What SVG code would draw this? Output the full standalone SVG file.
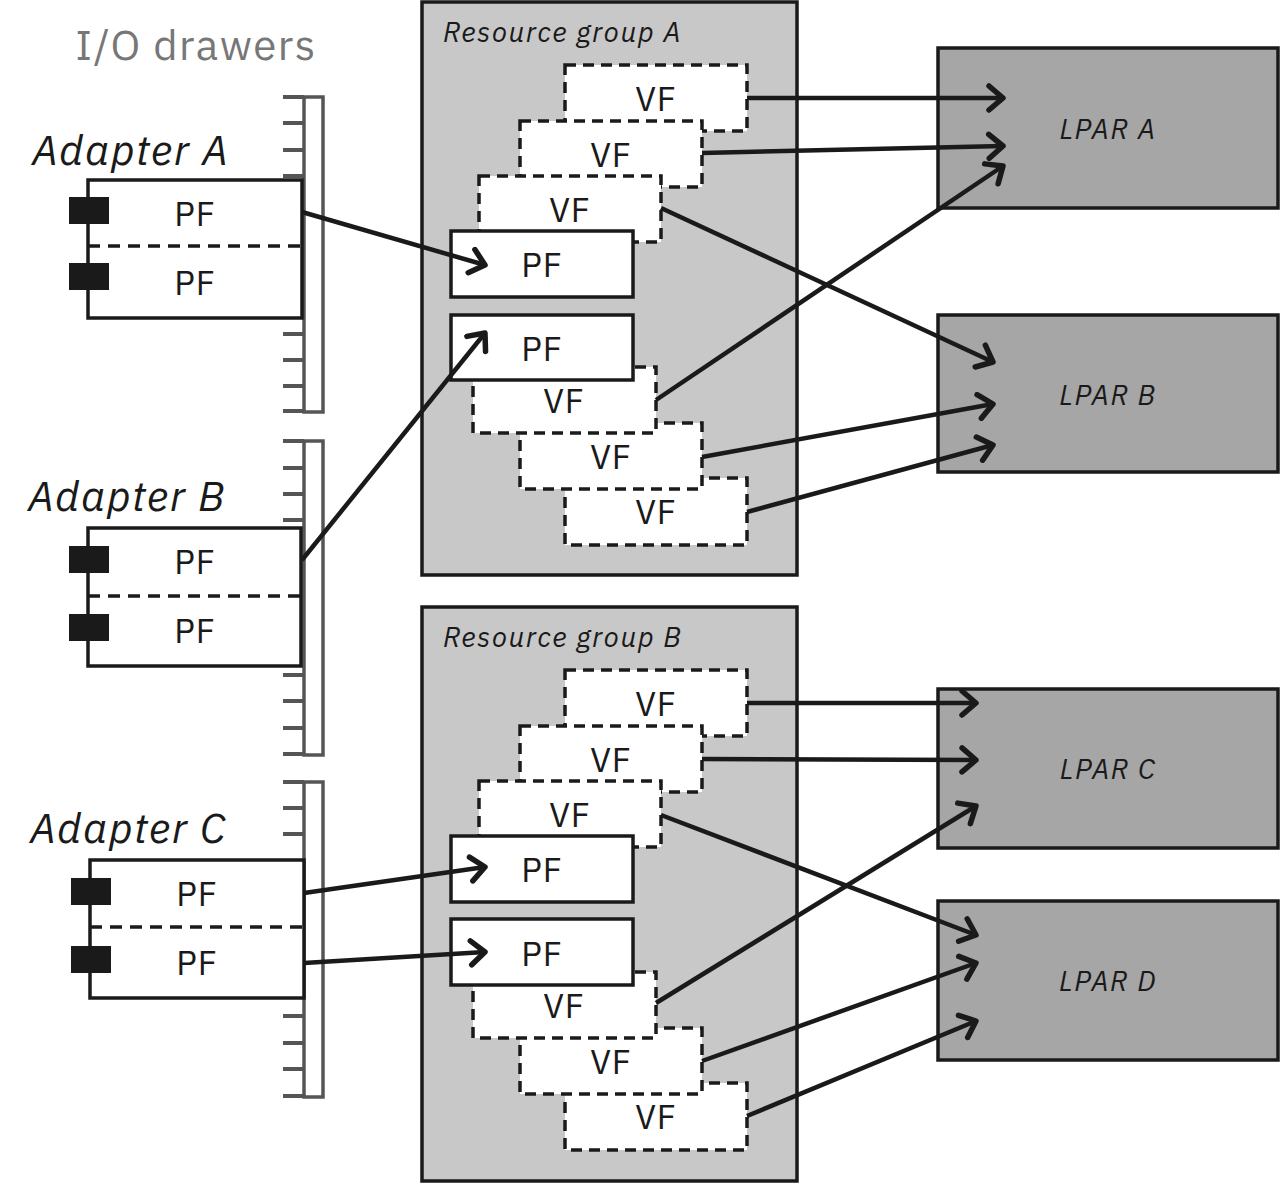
<svg xmlns="http://www.w3.org/2000/svg" width="1280" height="1183" viewBox="0 0 1280 1183">
<style>
text{font-family:"IBM Plex Sans","Noto Sans","Liberation Sans",sans-serif;fill:#1a1a1a}
.pf{font-size:34px;text-anchor:middle;letter-spacing:1px}
.it{font-style:italic}
.ad{font-size:42px;letter-spacing:1.5px}
.rgt{font-size:28px;letter-spacing:1.5px}
.lpt{font-size:28px;text-anchor:middle;letter-spacing:1.5px}
.box{fill:#fff;stroke:#1a1a1a;stroke-width:3.5}
.vf{fill:#fff;stroke:#1a1a1a;stroke-width:3.5;stroke-dasharray:11 7}
.rg{fill:#c8c8c8;stroke:#1a1a1a;stroke-width:3.5}
.lp{fill:#a6a6a6;stroke:#1a1a1a;stroke-width:3.5}
.bar{fill:#fff;stroke:#555;stroke-width:3.5}
.tick{stroke:#555;stroke-width:4}
.con{fill:#1a1a1a}
#connectors line{stroke:#1a1a1a;stroke-width:4.5;marker-end:url(#ah)}
</style>
<defs>
<marker id="ah" markerUnits="userSpaceOnUse" markerWidth="30" markerHeight="30" refX="26" refY="15" orient="auto" viewBox="0 0 30 30">
<path d="M12,3 L26,15 L12,27" fill="none" stroke="#1a1a1a" stroke-width="5.5" stroke-linecap="round" stroke-linejoin="round"/>
</marker>
</defs>
<rect width="1280" height="1183" fill="#fff"/>
<text x="196" y="60" font-size="42" style="fill:#777;letter-spacing:1.5px" text-anchor="middle">I/O drawers</text>
<g id="drawers">
<rect class="bar" x="304" y="97" width="19" height="315"/>
<rect class="bar" x="304" y="441" width="19" height="314"/>
<rect class="bar" x="304" y="782" width="19" height="315"/>
<path class="tick" d="M283,97h21M283,123h21M283,150h21M283,176h21M283,334h21M283,360h21M283,386h21M283,411h21
M283,441h21M283,468h21M283,494h21M283,520h21M283,675h21M283,701h21M283,728h21M283,754h21
M283,782h21M283,808h21M283,834h21M283,1016h21M283,1043h21M283,1069h21M283,1096h21"/>
</g>
<g id="adapterA">
<text x="32" y="165" class="it ad">Adapter A</text>
<rect class="box" x="88" y="180" width="214" height="138"/>
<line x1="88" y1="246" x2="302" y2="246" stroke="#1a1a1a" stroke-width="3.5" stroke-dasharray="12 8"/>
<rect class="con" x="69" y="197" width="40" height="27"/><rect class="con" x="69" y="263" width="40" height="27"/>
<text class="pf" x="195" y="226">PF</text><text class="pf" x="195" y="295">PF</text>
</g>
<g id="adapterB">
<text x="28" y="511" class="it ad">Adapter B</text>
<rect class="box" x="88" y="528" width="213" height="138"/>
<line x1="88" y1="596" x2="301" y2="596" stroke="#1a1a1a" stroke-width="3.5" stroke-dasharray="12 8"/>
<rect class="con" x="69" y="546" width="40" height="27"/><rect class="con" x="69" y="614" width="40" height="27"/>
<text class="pf" x="195" y="574">PF</text><text class="pf" x="195" y="643">PF</text>
</g>
<g id="adapterC">
<text x="30" y="843" class="it ad">Adapter C</text>
<rect class="box" x="90" y="860" width="214" height="138"/>
<line x1="90" y1="927" x2="304" y2="927" stroke="#1a1a1a" stroke-width="3.5" stroke-dasharray="12 8"/>
<rect class="con" x="71" y="878" width="40" height="27"/><rect class="con" x="71" y="946" width="40" height="27"/>
<text class="pf" x="197" y="906">PF</text><text class="pf" x="197" y="975">PF</text>
</g>
<g id="groupA">
<rect class="rg" x="422" y="2" width="375" height="573"/>
<text x="443" y="42" class="it rgt">Resource group A</text>
<rect class="vf" x="565" y="65" width="182" height="66"/><text class="pf" x="656" y="111">VF</text>
<rect class="vf" x="520" y="121" width="182" height="66"/><text class="pf" x="611" y="167">VF</text>
<rect class="vf" x="479" y="176" width="182" height="66"/><text class="pf" x="570" y="222">VF</text>
<rect class="box" x="451" y="231" width="182" height="66"/><text class="pf" x="542" y="277">PF</text>
<rect class="vf" x="565" y="478" width="182" height="67"/>
<rect class="vf" x="520" y="423" width="182" height="66"/>
<rect class="vf" x="473" y="367" width="183" height="66"/>
<rect class="box" x="451" y="315" width="182" height="65"/><text class="pf" x="542" y="361">PF</text>
<text class="pf" x="564" y="413">VF</text><text class="pf" x="611" y="469">VF</text><text class="pf" x="656" y="524">VF</text>
</g>
<g id="groupB">
<rect class="rg" x="422" y="607" width="375" height="574"/>
<text x="443" y="647" class="it rgt">Resource group B</text>
<rect class="vf" x="565" y="670" width="182" height="66"/><text class="pf" x="656" y="716">VF</text>
<rect class="vf" x="520" y="726" width="182" height="66"/><text class="pf" x="611" y="772">VF</text>
<rect class="vf" x="479" y="781" width="182" height="66"/><text class="pf" x="570" y="827">VF</text>
<rect class="box" x="451" y="836" width="182" height="66"/><text class="pf" x="542" y="882">PF</text>
<rect class="vf" x="565" y="1083" width="182" height="67"/>
<rect class="vf" x="520" y="1028" width="182" height="66"/>
<rect class="vf" x="473" y="972" width="183" height="66"/>
<rect class="box" x="451" y="919" width="182" height="66"/><text class="pf" x="542" y="966">PF</text>
<text class="pf" x="564" y="1018">VF</text><text class="pf" x="611" y="1074">VF</text><text class="pf" x="656" y="1129">VF</text>
</g>
<g id="lparA"><rect class="lp" x="938" y="48" width="340" height="160"/><text x="1108" y="139" class="it lpt">LPAR A</text></g>
<g id="lparB"><rect class="lp" x="938" y="315" width="340" height="157"/><text x="1108" y="405" class="it lpt">LPAR B</text></g>
<g id="lparC"><rect class="lp" x="938" y="689" width="340" height="159"/><text x="1108" y="779" class="it lpt">LPAR C</text></g>
<g id="lparD"><rect class="lp" x="938" y="901" width="340" height="159"/><text x="1108" y="991" class="it lpt">LPAR D</text></g>
<g id="connectors">
<line x1="302" y1="212" x2="485" y2="265"/>
<line x1="302" y1="560" x2="485" y2="333"/>
<line x1="747" y1="98" x2="1003" y2="98"/>
<line x1="702" y1="153" x2="1003" y2="146"/>
<line x1="661" y1="208" x2="993" y2="362"/>
<line x1="656" y1="400" x2="1003" y2="166"/>
<line x1="702" y1="457" x2="993" y2="404"/>
<line x1="747" y1="512" x2="993" y2="445"/>
<line x1="304" y1="893" x2="485" y2="867"/>
<line x1="304" y1="963" x2="485" y2="952"/>
<line x1="747" y1="703" x2="976" y2="703"/>
<line x1="702" y1="759" x2="976" y2="760"/>
<line x1="661" y1="815" x2="976" y2="935"/>
<line x1="656" y1="1003" x2="976" y2="806"/>
<line x1="702" y1="1061" x2="976" y2="963"/>
<line x1="747" y1="1116" x2="976" y2="1021"/>
</g>
</svg>
